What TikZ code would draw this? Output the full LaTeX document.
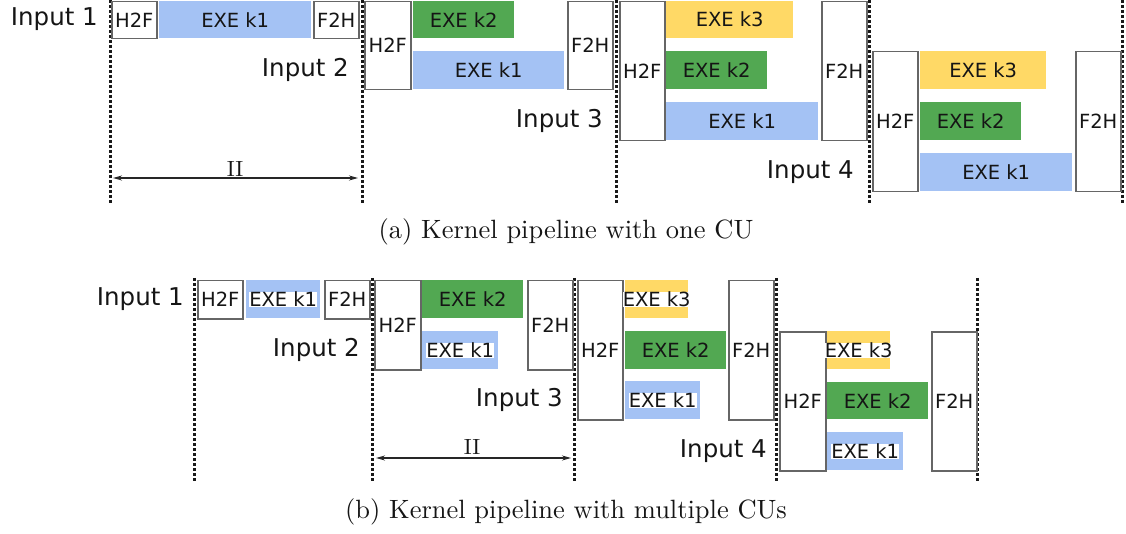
\documentclass[tikz,border=0pt]{standalone}
\usepackage{fontspec}
\newfontfamily\dv{DejaVu Sans}
\usetikzlibrary{arrows.meta}
\definecolor{kblue}{HTML}{A4C2F4}
\definecolor{kgreen}{HTML}{52A852}
\definecolor{kyellow}{HTML}{FFD966}
\definecolor{edgegray}{HTML}{666666}
\definecolor{inkc}{HTML}{151515}
% #1 style, #2 name, #3 x1, #4 y1, #5 x2, #6 y2, #7 text
\newcommand\rbox[7]{\node[#1, minimum width={(#5)-(#3)}, minimum height={(#6)-(#4)}, anchor=north west] (#2) at (#3,#4) {#7};}
\newcommand\captxt[1]{\scalebox{2.645}{\fontsize{10}{12}\selectfont #1}}
\newcommand\iitxt{\scalebox{2.2}{\fontsize{10}{12}\selectfont II}}
\begin{document}
\begin{tikzpicture}[x=1pt,y=-1pt,
  boxfont/.style={font=\dv\fontsize{19.5}{20}\selectfont, text=inkc},
  xfer/.style={draw=edgegray, line width=1.5pt, fill=white, inner sep=0pt, boxfont},
  bar/.style={draw=none, inner sep=0pt, boxfont},
  wtext/.style={fill=white, inner sep=0pt, boxfont},
  lbl/.style={inner sep=0pt, anchor=east, font=\dv\fontsize{24.5}{26}\selectfont, text=inkc},
  vline/.style={line width=3pt, dash pattern=on 3pt off 2pt, black!90},
  dimline/.style={{Stealth[length=9pt,width=5pt]}-{Stealth[length=9pt,width=5pt]}, line width=1.3pt, black!85},
  iitext/.style={inner sep=0pt, text=inkc},
  captext/.style={inner sep=0pt, anchor=base, text=inkc}]
\useasboundingbox (0,0) rectangle (1126,534);

% ===== (a) =====
\foreach \i/\x in {0/110,1/362,2/616,3/869,4/1122}{
  \coordinate (at\i) at (\x,0);
  \coordinate (ab\i) at (\x,204);
  \draw[vline] (at\i) -- (ab\i);
}
% Input 1
\rbox{xfer}{a1h}{111}{1}{156}{38}{H2F}
\rbox{bar,fill=kblue}{a1k1}{159}{1}{311}{38}{EXE k1}
\rbox{xfer}{a1f}{313}{1}{358}{38}{F2H}
% Input 2
\rbox{xfer}{a2h}{364}{1}{410}{89}{H2F}
\rbox{bar,fill=kgreen}{a2k2}{413}{1}{514}{38}{EXE k2}
\rbox{bar,fill=kblue}{a2k1}{413}{51}{564}{89}{EXE k1}
\rbox{xfer}{a2f}{567}{1}{612}{89}{F2H}
% Input 3
\rbox{xfer}{a3h}{619}{1}{664}{140}{H2F}
\rbox{bar,fill=kyellow}{a3k3}{666}{1}{793}{38}{EXE k3}
\rbox{bar,fill=kgreen}{a3k2}{666}{51}{767}{89}{EXE k2}
\rbox{bar,fill=kblue}{a3k1}{666}{102}{818}{140}{EXE k1}
\rbox{xfer}{a3f}{821}{1}{866}{140}{F2H}
% Input 4
\rbox{xfer}{a4h}{872}{51}{917}{191}{H2F}
\rbox{bar,fill=kyellow}{a4k3}{920}{51}{1046}{89}{EXE k3}
\rbox{bar,fill=kgreen}{a4k2}{920}{102}{1021}{140}{EXE k2}
\rbox{bar,fill=kblue}{a4k1}{920}{153}{1072}{191}{EXE k1}
\rbox{xfer}{a4f}{1075}{51}{1120}{191}{F2H}
% labels
\node[lbl] (ain1) at (98,19) {Input 1};
\node[lbl] (ain2) at (349,70) {Input 2};
\node[lbl] (ain3) at (603,121) {Input 3};
\node[lbl] (ain4) at (854,172) {Input 4};
% II
\coordinate (aiiL) at (113,178);
\coordinate (aiiR) at (358,178);
\draw[dimline] (aiiL) -- (aiiR);
\node[iitext] (aii) at (235,169) {\iitxt};
\node[captext] (capa) at (566,239) {\captxt{(a) Kernel pipeline with one CU}};

% ===== (b) =====
\foreach \i/\x in {0/194,1/372,2/574,3/776,4/977}{
  \coordinate (bt\i) at (\x,278);
  \coordinate (bb\i) at (\x,482);
  \draw[vline] (bt\i) -- (bb\i);
}
% Input 1
\rbox{xfer}{b1h}{197}{280}{242}{318}{H2F}
\rbox{bar,fill=kblue}{b1k1}{246}{280}{320}{318}{}
\node[wtext] (b1k1t) at (b1k1.center) {EXE k1};
\rbox{xfer}{b1f}{324}{280}{369}{318}{F2H}
% Input 2
\rbox{xfer}{b2h}{374}{280}{420}{369}{H2F}
\rbox{bar,fill=kgreen}{b2k2}{422}{280}{523}{318}{EXE k2}
\rbox{bar,fill=kblue}{b2k1}{422}{331}{498}{369}{}
\node[wtext] (b2k1t) at (b2k1.center) {EXE k1};
\rbox{xfer}{b2f}{527}{280}{572}{369}{F2H}
% Input 3
\rbox{xfer}{b3h}{577}{280}{622}{419}{H2F}
\rbox{bar,fill=kyellow}{b3k3}{625}{280}{688}{318}{}
\node[wtext] (b3k3t) at (b3k3.center) {EXE k3};
\rbox{bar,fill=kgreen}{b3k2}{625}{331}{726}{369}{EXE k2}
\rbox{bar,fill=kblue}{b3k1}{625}{381}{700}{419}{}
\node[wtext] (b3k1t) at (b3k1.center) {EXE k1};
\rbox{xfer}{b3f}{728}{280}{773}{419}{F2H}
% Input 4
\rbox{xfer}{b4h}{779}{331}{825}{470}{H2F}
\rbox{bar,fill=kyellow}{b4k3}{827}{331}{890}{369}{}
\node[wtext] (b4k3t) at (b4k3.center) {EXE k3};
\rbox{bar,fill=kgreen}{b4k2}{827}{382}{928}{419}{EXE k2}
\rbox{bar,fill=kblue}{b4k1}{827}{432}{903}{470}{}
\node[wtext] (b4k1t) at (b4k1.center) {EXE k1};
\rbox{xfer}{b4f}{931}{331}{976}{470}{F2H}
% labels
\node[lbl] (bin1) at (184,299) {Input 1};
\node[lbl] (bin2) at (360,350) {Input 2};
\node[lbl] (bin3) at (563,400) {Input 3};
\node[lbl] (bin4) at (767,451) {Input 4};
% II
\coordinate (biiL) at (376,458);
\coordinate (biiR) at (571,458);
\draw[dimline] (biiL) -- (biiR);
\node[iitext] (bii) at (472,447) {\iitxt};
\node[captext] (capb) at (566,518) {\captxt{(b) Kernel pipeline with multiple CUs}};
\end{tikzpicture}
\end{document}
